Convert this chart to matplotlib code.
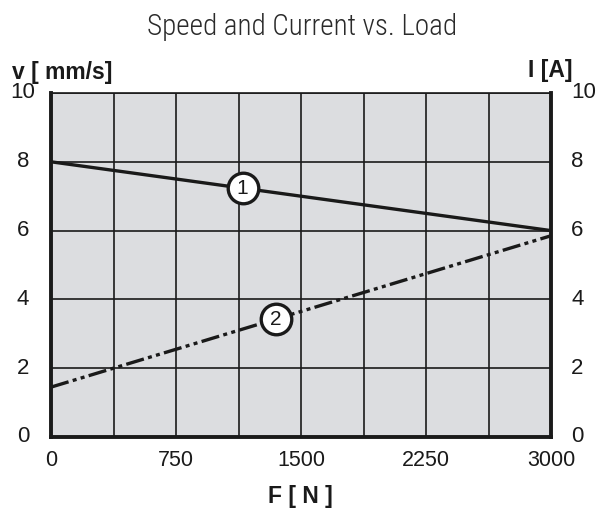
import numpy as np
import matplotlib.pyplot as plt

# data
load_n = [0, 3000]
speed_mm_s = [8.0, 6.0]      # curve 1
current_a = [1.45, 5.85]     # curve 2
x_ticks = [0, 750, 1500, 2250, 3000]
y_ticks = [0, 2, 4, 6, 8, 10]
marker_pos = {"1": 1150, "2": 1350}

cond = ['Roboto Condensed', 'DejaVu Sans']
arial = ['Liberation Sans', 'DejaVu Sans']
ink = '#1a1a1a'
W, H = 603, 515

fig = plt.figure(figsize=(W / 100, H / 100), dpi=100)
ax = fig.add_axes([51/W, 1 - 437/H, 500/W, 344/H])
ax.set_facecolor('#dcdde0')

ax.set_xlim(0, 3000)
ax.set_ylim(0, 10)
ax.set_xticks(np.arange(0, 3001, 375))
ax.set_yticks(np.arange(0, 11, 2))
ax.grid(True, color=ink, linewidth=1.2)
ax.set_axisbelow(True)
ax.tick_params(length=0, labelbottom=False, labelleft=False)

for s in ['left', 'right', 'bottom']:
    ax.spines[s].set_linewidth(2.8)
    ax.spines[s].set_color(ink)
ax.spines['top'].set_linewidth(1.2)
ax.spines['top'].set_color(ink)

# curves
ax.plot(load_n, speed_mm_s, color=ink, lw=2.4, solid_capstyle='butt', zorder=3)
ax.plot(load_n, current_a, color=ink, lw=2.4, dashes=(5.5, 1.3, 1.2, 1.3, 1.2, 1.3), zorder=3)

for lbl, ys in (("1", speed_mm_s), ("2", current_a)):
    xv = marker_pos[lbl]
    yv = np.interp(xv, load_n, ys)
    ax.plot(xv, yv, 'o', ms=22, mfc='white', mec=ink, mew=2.4, zorder=4)
    ax.text(xv, yv, lbl, ha='center', va='center', fontsize=15,
            family=arial, color=ink, zorder=5)

# tick labels
for xt in x_ticks:
    fig.text((51 + xt / 3000 * 500) / W, 1 - 461/H, str(xt), ha='center', va='center',
             fontsize=15.5, family=arial, color=ink)
for yt in y_ticks:
    yp = 1 - (437 - yt / 10 * 344) / H
    fig.text(23/W, yp, str(yt), ha='center', va='center', fontsize=16,
             family=arial, color=ink)
    fig.text(571/W, yp, str(yt), ha='left', va='center', fontsize=16,
             family=arial, color=ink)

fig.text(12/W, 1 - 72/H, 'v [ mm/s]', ha='left', va='center', fontsize=16.5,
         fontweight='bold', family=arial, color=ink)
fig.text(572/W, 1 - 71/H, 'I [A]', ha='right', va='center', fontsize=16.5,
         fontweight='bold', family=arial, color=ink)
fig.text(300/W, 1 - 497/H, 'F [ N ]', ha='center', va='center', fontsize=16.5,
         fontweight='bold', family=arial, color=ink)
fig.text(302/W, 1 - 35/H, 'Speed and Current vs. Load', ha='center', va='baseline',
         fontsize=21, fontweight='light', family=cond, color='#2a2a2a')

fig.savefig('out.png', dpi=100)
